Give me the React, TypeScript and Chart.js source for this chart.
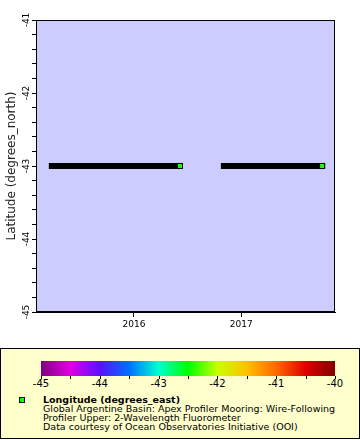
import React, { useEffect, useRef } from 'react';
import { Chart, registerables } from 'chart.js';

Chart.register(...registerables);

// ---- data ----
const seg1Dates = ['2015-03-27', '2016-06-06'];
const seg1Lat = [-43, -43];
const seg2Dates = ['2016-11-03', '2017-10-04'];
const seg2Lat = [-43, -43];
const markerDates = ['2016-06-06', '2017-10-04'];
const markerLat = [-43, -43];
const markerLon = [-42.45, -42.45];
const xTickYears = [2016, 2017];
const yTickLabels = [-45, -44, -43, -42, -41];
const xRange = ['2015-02-01', '2017-11-17'];
const yRange = [-45, -41];
const colorbarTicks = [-45, -44, -43, -42, -41, -40];
const colorbarRange = [-45, -40];
const colormapValues = [-45, -44.5, -44, -43.5, -43, -42.5, -42, -41.5, -41, -40.5, -40];
const colormapColors = ['#800080', '#e000e0', '#5a10ff', '#0070ff', '#00ffd0', '#00ff00', '#c8ff00', '#ffc000', '#ff6800', '#e00000', '#800000'];
const legendTitle = 'Longitude (degrees_east)';
const legendLines = [
  'Global Argentine Basin: Apex Profiler Mooring: Wire-Following',
  'Profiler Upper: 2-Wavelength Fluorometer',
  'Data courtesy of Ocean Observatories Initiative (OOI)',
];

const FONT = '"DejaVu Sans", sans-serif';
const ts = (d: string) => Date.parse(d + 'T00:00:00Z');

function hexToRgb(h: string) {
  const n = parseInt(h.slice(1), 16);
  return [(n >> 16) & 255, (n >> 8) & 255, n & 255];
}
function colorFor(v: number) {
  if (v <= colormapValues[0]) return colormapColors[0];
  for (let i = 1; i < colormapValues.length; i++) {
    if (v <= colormapValues[i]) {
      const t = (v - colormapValues[i - 1]) / (colormapValues[i] - colormapValues[i - 1]);
      const a = hexToRgb(colormapColors[i - 1]);
      const b = hexToRgb(colormapColors[i]);
      const c = a.map((x, k) => Math.round(x + (b[k] - x) * t));
      return `rgb(${c[0]},${c[1]},${c[2]})`;
    }
  }
  return colormapColors[colormapColors.length - 1];
}

const framePlugin = {
  id: 'frame',
  beforeDraw(chart: any) {
    const { ctx, chartArea: a } = chart;
    ctx.save();
    ctx.fillStyle = '#ccccff';
    ctx.fillRect(a.left, a.top, a.right - a.left, a.bottom - a.top);
    ctx.restore();
  },
  afterDraw(chart: any) {
    const { ctx, chartArea: a } = chart;
    ctx.save();
    ctx.strokeStyle = '#000';
    ctx.lineWidth = 1;
    ctx.strokeRect(Math.round(a.left) + 0.5, Math.round(a.top) + 0.5, Math.round(a.right - a.left) - 1, Math.round(a.bottom - a.top) - 1);
    // rotated y tick labels
    const ys = chart.scales.y;
    ctx.fillStyle = '#000';
    ctx.font = `9px ${FONT}`;
    ctx.textAlign = 'center';
    ctx.textBaseline = 'alphabetic';
    yTickLabels.forEach((v) => {
      const py = ys.getPixelForValue(v);
      ctx.save();
      ctx.translate(29, py);
      ctx.rotate(-Math.PI / 2);
      ctx.fillText(String(v), 0, 0);
      ctx.restore();
    });
    ctx.restore();
  },
};

function PlotChart() {
  const ref = useRef<HTMLCanvasElement | null>(null);
  useEffect(() => {
    if (!ref.current) return;
    const markerColors = markerLon.map(colorFor);
    const chart = new Chart(ref.current, {
      type: 'scatter',
      data: {
        datasets: [
          {
            data: markerDates.map((d, i) => ({ x: ts(d), y: markerLat[i] })),
            showLine: false,
            pointStyle: 'rect',
            pointRadius: 3.6,
            backgroundColor: markerColors,
            borderColor: '#000',
            borderWidth: 1,
          } as any,
          {
            data: seg1Dates.map((d, i) => ({ x: ts(d), y: seg1Lat[i] })),
            showLine: true,
            borderColor: '#000',
            borderWidth: 6,
            borderCapStyle: 'square',
            pointRadius: 0,
          } as any,
          {
            data: seg2Dates.map((d, i) => ({ x: ts(d), y: seg2Lat[i] })),
            showLine: true,
            borderColor: '#000',
            borderWidth: 6,
            borderCapStyle: 'square',
            pointRadius: 0,
          } as any,
        ],
      },
      options: {
        animation: false,
        responsive: false,
        devicePixelRatio: 1,
        layout: { padding: { top: 20, right: 25, left: 0, bottom: 0 } },
        plugins: { legend: { display: false }, tooltip: { enabled: false } },
        scales: {
          x: {
            type: 'linear',
            min: ts(xRange[0]),
            max: ts(xRange[1]),
            afterBuildTicks: (axis: any) => {
              axis.ticks = xTickYears.map((y) => ({ value: Date.UTC(y, 0, 1) }));
            },
            afterFit: (s: any) => {
              s.height = 33;
            },
            ticks: {
              autoSkip: false,
              maxRotation: 0,
              minRotation: 0,
              padding: 2,
              color: '#000',
              font: { family: FONT, size: 9 },
              callback: (v: any) => String(new Date(v).getUTCFullYear()),
            },
            grid: { drawOnChartArea: false, drawTicks: true, tickLength: 5, color: '#000' },
            border: { display: true, color: '#000', width: 1 },
          },
          y: {
            type: 'linear',
            min: yRange[0],
            max: yRange[1],
            afterBuildTicks: (axis: any) => {
              const t: any[] = [];
              for (let i = 0; i <= 20; i++) t.push({ value: yRange[0] + i * 0.2 });
              axis.ticks = t;
            },
            afterFit: (s: any) => {
              s.width = 36;
            },
            ticks: { display: false, autoSkip: false },
            grid: { drawOnChartArea: false, drawTicks: true, tickLength: 4, color: '#000' },
            border: { display: true, color: '#000', width: 1 },
            title: {
              display: true,
              text: 'Latitude (degrees_north)',
              color: '#222',
              font: { family: FONT, size: 12 },
              padding: { top: 5, bottom: 0 },
            },
          },
        },
      },
      plugins: [framePlugin],
    } as any);
    return () => chart.destroy();
  }, []);
  return <canvas ref={ref} width={360} height={345} style={{ display: 'block' }} />;
}

function Legend() {
  const [lo, hi] = colorbarRange;
  const barLeft = 41;
  const barWidth = 294;
  const grad = colormapValues
    .map((v, i) => `${colormapColors[i]} ${(((v - lo) / (hi - lo)) * 100).toFixed(2)}%`)
    .join(', ');
  const minorTicks: number[] = [];
  for (let v = lo; v <= hi + 1e-9; v += 0.5) minorTicks.push(v);
  const px = (v: number) => barLeft + ((v - lo) / (hi - lo)) * barWidth;
  return (
    <div
      style={{
        position: 'absolute',
        left: 0,
        top: 348,
        width: 360,
        height: 91,
        boxSizing: 'border-box',
        border: '1px solid #000',
        background: '#ffffcc',
        fontFamily: FONT,
        color: '#000',
      }}
    >
      <div
        style={{
          position: 'absolute',
          left: barLeft - 1,
          top: 12,
          width: barWidth,
          height: 15,
          background: `linear-gradient(to right, ${grad})`,
        }}
      />
      {minorTicks.map((v, i) => (
        <div
          key={'t' + i}
          style={{ position: 'absolute', left: Math.round(px(v)) - 1, top: 27, width: 1, height: 3, background: '#000' }}
        />
      ))}
      {colorbarTicks.map((v) => (
        <div
          key={'l' + v}
          style={{
            position: 'absolute',
            left: px(v) - 1 - 20,
            width: 40,
            top: 29,
            textAlign: 'center',
            fontSize: 10,
            lineHeight: '12px',
          }}
        >
          {String(v)}
        </div>
      ))}
      <div
        style={{
          position: 'absolute',
          left: 18,
          top: 48,
          width: 4,
          height: 4,
          border: '1px solid #000',
          background: colorFor(markerLon[0]),
        }}
      />
      <div style={{ position: 'absolute', left: 42, top: 46, fontSize: 9.5, lineHeight: '9px', whiteSpace: 'nowrap' }}>
        <div style={{ fontWeight: 'bold' }}>{legendTitle}</div>
        {legendLines.map((l) => (
          <div key={l}>{l}</div>
        ))}
      </div>
    </div>
  );
}

export default function App() {
  return (
    <div style={{ position: 'fixed', left: 0, top: 0, width: 360, height: 440, background: '#fff', overflow: 'hidden' }}>
      <PlotChart />
      <Legend />
    </div>
  );
}
